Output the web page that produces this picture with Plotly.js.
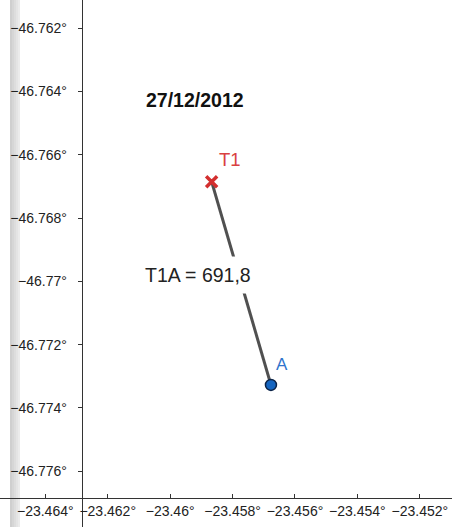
<!DOCTYPE html>
<html>
<head>
<meta charset="utf-8">
<script src="https://cdn.plot.ly/plotly-3.0.1.min.js"></script>
<style>
  html, body { margin: 0; padding: 0; background: #fff; }
  #chart { width: 452px; height: 527px; }
</style>
</head>
<body>
<div id="chart"></div>
<script>
// ---- data ----
const pointNames = ['T1', 'A'];
const pointX = [-23.45867, -23.45677];
const pointY = [-46.76685, -46.77327];
const pointColors = ['#d32f2f', '#1565c0'];
const segmentLabel = 'T1A = 691,8';
const dateTitle = '27/12/2012';

const xTickVals = [-23.464, -23.462, -23.460, -23.458, -23.456, -23.454, -23.452];
const xTickText = ['−23.464°', '−23.462°', '−23.46°', '−23.458°', '−23.456°', '−23.454°', '−23.452°'];
const yTickVals = [-46.762, -46.764, -46.766, -46.768, -46.770, -46.772, -46.774, -46.776];
const yTickText = ['−46.762°', '−46.764°', '−46.766°', '−46.768°', '−46.77°', '−46.772°', '−46.774°', '−46.776°'];

const xRange = [-23.46545, -23.45097];
const yRange = [-46.77776, -46.76111];

// ---- figure ----
const W = 452, H = 527;
const font = 'Liberation Sans, Arial, sans-serif';

const traces = [
  {
    type: 'scatter', mode: 'lines',
    x: pointX, y: pointY,
    line: { color: '#505050', width: 3 },
    hoverinfo: 'skip', showlegend: false
  },
  {
    type: 'scatter', mode: 'markers',
    x: [pointX[0]], y: [pointY[0]],
    marker: { symbol: 'x-thin', size: 11, line: { color: pointColors[0], width: 3.5 }, color: pointColors[0] },
    showlegend: false
  },
  {
    type: 'scatter', mode: 'markers',
    x: [pointX[1]], y: [pointY[1]],
    marker: { symbol: 'circle', size: 11, color: pointColors[1], line: { color: '#0b2347', width: 1.5 } },
    showlegend: false
  }
];

// gray strip on the left edge
const stripColors = ['#cfcfcf', '#d6d6d6', '#dddddd', '#e4e4e4', '#ebebeb'];
const shapes = stripColors.map((c, i) => ({
  type: 'rect', xref: 'paper', yref: 'paper', layer: 'below',
  x0: (10 + 2 * i) / W, x1: (12 + 2 * i) / W, y0: 0, y1: 1,
  fillcolor: c, line: { width: 0 }
}));

const annotations = [
  {
    xref: 'paper', yref: 'paper', x: 195 / W, y: 1 - 100.5 / H,
    text: '<b>' + dateTitle + '</b>', showarrow: false,
    font: { family: font, size: 19.5, color: '#111' },
    xanchor: 'center', yanchor: 'middle'
  },
  {
    xref: 'x', yref: 'y', x: pointX[0], y: pointY[0],
    text: pointNames[0], showarrow: false,
    xshift: 18, yshift: 22,
    font: { family: font, size: 18.5, color: '#d94040' },
    xanchor: 'center', yanchor: 'middle'
  },
  {
    xref: 'x', yref: 'y', x: pointX[1], y: pointY[1],
    text: pointNames[1], showarrow: false,
    xshift: 11, yshift: 20,
    font: { family: font, size: 17, color: '#2f73cc' },
    xanchor: 'center', yanchor: 'middle'
  },
  {
    xref: 'x', yref: 'y',
    x: (pointX[0] + pointX[1]) / 2, y: (pointY[0] + pointY[1]) / 2,
    text: segmentLabel, showarrow: false,
    xshift: -43, yshift: 8,
    bgcolor: '#ffffff', borderpad: 7,
    font: { family: font, size: 19.5, color: '#222' },
    xanchor: 'center', yanchor: 'middle'
  }
];

const axisCommon = {
  showgrid: false, zeroline: false, showline: true,
  linecolor: '#333', linewidth: 1,
  tickcolor: '#333', ticklen: 4, tickwidth: 1,
  tickmode: 'array',
  tickfont: { family: font, size: 14, color: '#222' },
  fixedrange: true
};

const layout = {
  width: W, height: H,
  margin: { l: 0, r: 0, t: 0, b: 0, pad: 0 },
  paper_bgcolor: '#ffffff', plot_bgcolor: '#ffffff',
  showlegend: false,
  xaxis: Object.assign({}, axisCommon, {
    range: xRange, anchor: 'free', position: (H - 498) / H, side: 'bottom',
    ticks: 'inside', tickvals: xTickVals, ticktext: xTickText
  }),
  yaxis: Object.assign({}, axisCommon, {
    range: yRange, anchor: 'free', position: 81.7 / W, side: 'left',
    ticks: 'outside', tickvals: yTickVals, ticktext: yTickText,
    ticklabelstandoff: 8
  }),
  shapes: shapes,
  annotations: annotations,
  hovermode: false
};

Plotly.newPlot('chart', traces, layout, { displayModeBar: false, staticPlot: true });
</script>
</body>
</html>
